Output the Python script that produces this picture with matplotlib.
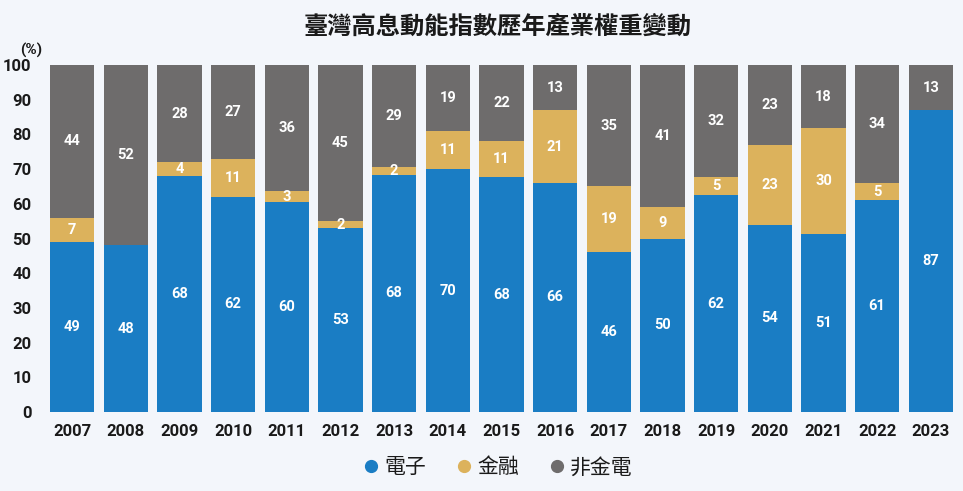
import matplotlib
matplotlib.use("Agg")
import matplotlib.pyplot as plt
import numpy as np

plt.rcParams['font.family'] = ['Roboto', 'Noto Sans CJK TC', 'DejaVu Sans']

years = ['2007', '2008', '2009', '2010', '2011', '2012', '2013', '2014', '2015',
         '2016', '2017', '2018', '2019', '2020', '2021', '2022', '2023']
electronics = [49, 48, 68, 62, 60.4, 53, 68.4, 70, 67.6, 66, 46, 50, 62.4, 54, 51.4, 61, 87]
finance = [7, 0, 4, 11, 3.4, 2, 2.3, 11, 10.6, 21, 19, 9, 5.2, 23, 30.4, 5, 0]
others = [44, 52, 28, 27, 36.2, 45, 29.3, 19, 21.8, 13, 35, 41, 32.4, 23, 18.2, 34, 13]
series_names = ['電子', '金融', '非金電']
colors = ['#1a7dc4', '#dcb25c', '#6e6c6c']
yticks = [0, 10, 20, 30, 40, 50, 60, 70, 80, 90, 100]

bg = '#f3f6fb'
fig = plt.figure(figsize=(9.63, 4.91), dpi=100, facecolor=bg)
ax = fig.add_axes([0.0498, 0.1609, 0.9419, 0.7067], facecolor=bg)

x = np.arange(len(years))
w = 0.83
bottom = np.zeros(len(years))
for vals, name, c in zip([electronics, finance, others], series_names, colors):
    v = np.array(vals, dtype=float)
    bars = ax.bar(x, v, w, bottom=bottom, color=c, label=name, zorder=2)
    labels = [f'{round(val):d}' if val > 0 else '' for val in v]
    ax.bar_label(bars, labels=labels, label_type='center', color='white',
                 fontsize=10.5, fontweight='bold', family=['Roboto', 'DejaVu Sans'])
    bottom += v

ax.set_xlim(-0.45, len(years) - 0.55)
ax.set_ylim(0, 100)
ax.set_xticks(x)
ax.set_xticklabels(years, fontsize=12, fontweight='bold', color='#1a1a1a')
ax.set_yticks(yticks)
ax.set_yticklabels([str(t) for t in yticks], fontsize=12, fontweight='bold', color='#1a1a1a')
ax.tick_params(length=0)
ax.tick_params(axis='x', pad=9)
ax.tick_params(axis='y', pad=12)
for s in ax.spines.values():
    s.set_visible(False)

fig.text(0.021, 0.898, '(%)', fontsize=11, fontweight='bold', color='#1a1a1a',
         ha='left', va='center')
fig.text(0.517, 0.945, '臺灣高息動能指數歷年產業權重變動', fontsize=17.5, fontweight='bold',
         ha='center', va='center', color='#1a1a1a',
         family=['Noto Sans CJK TC', 'DejaVu Sans'])

handles = [plt.Line2D([0], [0], marker='o', linestyle='', markersize=8.5,
                      markerfacecolor=c, markeredgecolor=c) for c in colors]
leg = fig.legend(handles, series_names, loc='center', bbox_to_anchor=(0.513, 0.048),
                 ncol=3, frameon=False, handletextpad=-0.1, columnspacing=1.05,
                 handlelength=1.5,
                 prop={'family': ['Noto Sans CJK TC', 'DejaVu Sans'], 'size': 15,
                       'weight': 'medium'})
for t in leg.get_texts():
    t.set_color('#1a1a1a')

fig.savefig('out.png', dpi=100, facecolor=bg)
